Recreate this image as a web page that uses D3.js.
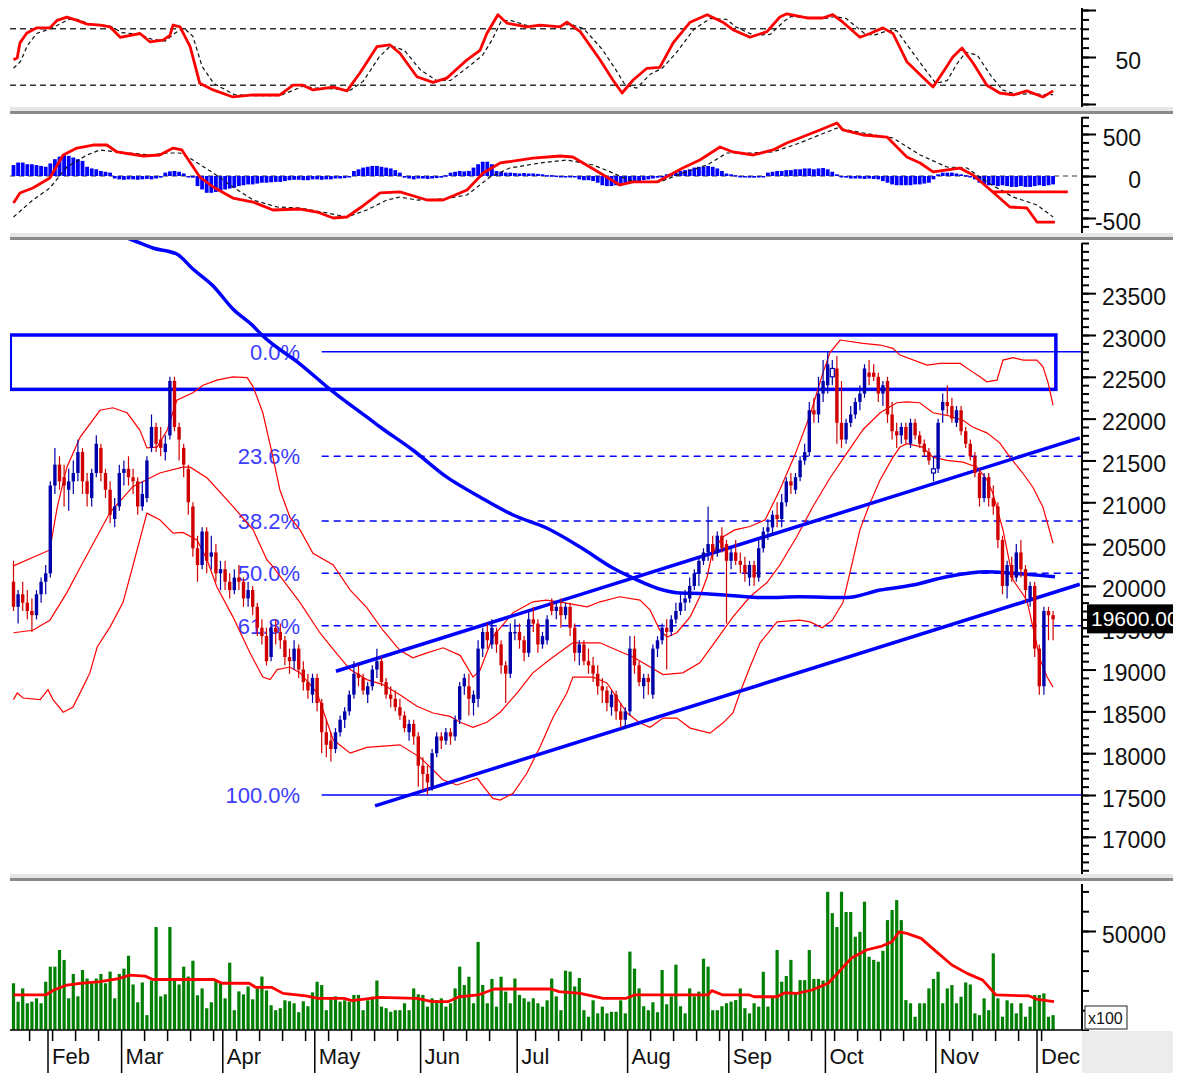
<!DOCTYPE html>
<html>
<head>
<meta charset="utf-8">
<script src="https://cdn.jsdelivr.net/npm/d3@7"></script>
<style>
  html, body { margin: 0; padding: 0; background: #fff; }
  svg { display: block; font-family: "Liberation Sans", Arial, sans-serif; }
</style>
</head>
<body>
<div id="chart"></div>
<script>
// ---- data ----
const monthNames = ["Feb", "Mar", "Apr", "May", "Jun", "Jul", "Aug", "Sep", "Oct", "Nov", "Dec"];
const monthStartBar = [8, 24, 46, 66, 89, 110, 134, 156, 177, 201, 223];

// daily candles: [open, high, low, close]
const candles = [
  [20050,20300,19700,19750],[19750,19950,19550,19900],[19900,20050,19700,19800],[19800,19950,19600,19700],
  [19700,19850,19450,19650],[19650,19950,19600,19900],[19900,20100,19800,20050],[20050,20250,19900,20150],
  // Feb
  [20150,21250,20100,21200],[21200,21650,21100,21450],[21450,21550,21150,21250],[21300,21450,20950,21200],
  [21150,21400,20900,21250],[21250,21500,21100,21350],[21350,21750,21250,21600],[21600,21650,21100,21250],
  [21250,21350,20950,21100],[21050,21400,20950,21350],[21350,21800,21300,21700],[21650,21700,21250,21350],
  [21350,21400,21050,21150],[21150,21250,20750,20850],[20800,21050,20700,20950],[20950,21450,20900,21350],
  // Mar
  [21350,21500,21200,21400],[21400,21550,21200,21300],[21300,21400,21100,21250],[21250,21300,20850,20950],
  [20950,21250,20900,21100],[21050,21550,21000,21500],[21650,22050,21600,21900],[21900,21950,21600,21700],
  [21750,21900,21550,21650],[21600,21800,21500,21700],[21800,22500,21750,22450],[22450,22500,21850,21900],
  [21900,21950,21500,21750],[21650,21700,21300,21450],[21400,21450,20850,21000],[20950,21000,20350,20450],
  [20450,20600,20050,20250],[20250,20700,20200,20650],[20650,20700,20150,20300],[20350,20600,20200,20400],
  [20400,20500,20050,20150],[20150,20300,19950,20200],
  // Apr
  [20200,20300,19950,20050],[20050,20150,19850,19950],[19950,20200,19900,20100],[20100,20250,19950,20050],
  [20050,20100,19750,19850],[19850,20050,19750,19950],[19950,20000,19650,19750],[19750,19800,19400,19500],
  [19500,19600,19300,19400],[19400,19500,19050,19100],[19150,19550,19100,19500],[19500,19600,19300,19450],
  [19450,19550,19250,19350],[19350,19400,19050,19150],[19150,19250,18950,19100],[19100,19350,19000,19250],
  [19250,19300,18900,19000],[19000,19100,18750,18850],[18850,18950,18650,18750],[18700,18950,18600,18900],
  // May
  [18900,18950,18500,18600],[18600,18650,18000,18250],[18250,18400,17950,18100],[18150,18250,17900,18050],
  [18050,18300,18000,18250],[18250,18450,18200,18400],[18400,18550,18300,18500],[18500,18750,18450,18700],
  [18700,19100,18650,18950],[18950,19050,18800,18900],[18900,18950,18700,18750],[18700,18850,18600,18800],
  [18800,19050,18750,19000],[19000,19250,18900,19100],[19100,19150,18800,18850],[18850,18900,18650,18700],
  [18700,18800,18550,18650],[18650,18750,18500,18550],[18550,18650,18400,18450],[18450,18500,18250,18300],
  [18250,18400,18150,18350],[18350,18400,18100,18200],[18200,18250,17600,17850],
  // Jun
  [17850,17950,17550,17750],[17750,17850,17500,17650],[17600,18050,17550,18000],[18000,18250,17950,18200],
  [18200,18250,18050,18150],[18150,18300,18100,18250],[18250,18300,18100,18200],[18200,18450,18150,18400],
  [18400,18850,18350,18800],[18800,18950,18700,18900],[18800,18950,18450,18650],[18600,18750,18450,18700],
  [18650,19350,18550,19250],[19250,19500,19150,19450],[19450,19550,19250,19350],[19300,19600,19250,19500],
  [19450,19500,19200,19300],[19300,19350,18950,19050],[19050,19100,18600,18950],[18950,19550,18900,19450],
  [19450,19600,19350,19450],
  // Jul
  [19450,19550,19250,19350],[19350,19400,19100,19200],[19200,19700,19150,19600],[19600,19750,19450,19550],
  [19550,19600,19200,19300],[19300,19450,19250,19400],[19350,19650,19300,19600],[19800,19850,19650,19700],
  [19700,19800,19600,19750],[19750,19850,19500,19650],[19650,19800,19600,19750],[19750,19800,19400,19500],
  [19500,19550,19100,19200],[19200,19350,19050,19300],[19300,19350,19050,19100],[19100,19250,18950,19050],
  [19050,19150,18850,18950],[18950,19050,18700,18800],[18800,18900,18600,18750],[18750,18800,18500,18600],
  [18550,18750,18450,18700],[18700,18750,18400,18500],[18500,18600,18300,18400],[18400,18550,18300,18500],
  // Aug
  [18500,19400,18450,19250],[19250,19400,18950,19050],[19050,19100,18800,18850],[18800,18950,18650,18900],
  [18900,18950,18700,18850],[18700,19300,18650,19250],[19250,19400,19150,19350],[19350,19550,19300,19500],
  [19500,19600,19000,19450],[19450,19650,19400,19600],[19600,19800,19550,19700],[19700,19900,19650,19800],
  [19800,19950,19700,19850],[19850,20100,19800,20000],[20000,20200,19950,20150],[20150,20350,20000,20300],
  [20300,20450,20250,20400],[20400,20950,20300,20500],[20500,20600,20300,20400],[20400,20650,20350,20600],
  [20600,20700,20400,20450],[20500,20550,19550,20300],
  // Sep
  [20300,20450,20200,20400],[20400,20550,20250,20300],[20300,20400,20150,20250],[20250,20350,20050,20150],
  [20100,20300,20000,20250],[20250,20300,20000,20100],[20100,20550,20050,20450],[20450,20700,20400,20650],
  [20650,20800,20550,20700],[20700,20900,20600,20850],[20850,21000,20700,20800],[20800,21100,20700,21000],
  [21000,21300,20950,21250],[21250,21350,21100,21200],[21150,21350,21100,21300],[21300,21550,21250,21500],
  [21500,21700,21450,21600],[21600,22200,21550,22100],[22100,22250,21950,22050],[22050,22500,21950,22300],
  [22300,22700,22200,22450],
  // Oct
  [22400,22800,22300,22650],[22500,22700,22400,22600],[22600,22750,21700,21950],[21950,22450,21650,21750],
  [21750,22000,21700,21950],[21950,22150,21900,22050],[22050,22250,22000,22200],[22200,22400,22100,22300],
  [22300,22650,22250,22600],[22550,22700,22400,22500],[22550,22650,22450,22500],[22500,22550,22200,22300],
  [22300,22450,22150,22400],[22450,22500,21950,22050],[22050,22200,21750,21850],[21850,21950,21650,21800],
  [21800,21950,21700,21900],[21900,21950,21700,21750],[21700,22000,21650,21950],[21950,22000,21750,21800],
  [21800,21850,21650,21700],[21700,21750,21550,21600],[21600,21650,21450,21500],[21350,21550,21250,21400],
  // Nov
  [21400,22000,21350,21950],[22100,22300,21950,22200],[22200,22400,22050,22150],[22150,22250,21950,22000],
  [21950,22150,21900,22100],[22100,22150,21800,21850],[21850,21900,21650,21700],[21700,21750,21500,21550],
  [21550,21600,21300,21350],[21350,21400,20950,21050],[21050,21350,21000,21300],[21300,21350,20950,21050],
  [21050,21200,20850,20950],[20950,21000,20450,20550],[20550,20600,19900,20000],[20000,20300,19850,20250],
  [20250,20350,20050,20100],[20100,20500,20050,20400],[20400,20550,20100,20200],[20200,20250,19800,19950],
  [19850,20050,19750,20000],[20000,20050,19150,19250],
  // Dec
  [19250,19300,18700,18800],[18800,19750,18700,19700],[19700,19750,19350,19650],[19650,19700,19350,19600]
];

const volume = [
  23600,14300,21000,13500,14300,16000,13500,24400,
  32000,32000,40400,35400,16000,28300,17000,30300,26000,23600,26000,28300,23600,29500,16000,28300,
  31000,37500,23000,14000,24000,7500,25000,52000,17000,18000,52000,26000,23000,32000,27000,35000,17500,21000,11000,14000,25000,24000,
  16000,34000,10000,19500,18000,22000,15500,21000,27000,20000,12500,10000,11000,15000,14500,13500,9000,14500,12000,19000,
  24400,22700,10000,16000,17000,14300,15000,14300,17700,17700,10000,15000,16800,25000,11800,11000,9200,10000,10000,13500,10000,21000,18000,
  17700,11800,16000,15100,16000,11800,13500,21000,32000,22700,26900,13500,44500,22700,13500,25800,11800,26900,19400,13500,26000,
  17700,16000,14300,16000,13500,11800,15000,26000,17000,10000,30000,29500,22000,26300,10000,6700,15000,8400,11800,8400,9200,9200,15000,8400,
  39600,31000,21000,12000,10000,14000,9000,30300,13000,17000,33000,12000,8400,21000,17000,19400,36000,32000,10000,10000,12000,13500,
  14300,15100,21000,11000,8400,13500,11800,29400,11800,16800,40400,24400,27300,35400,18500,25200,25200,40400,25800,25800,25000,
  69800,59000,52000,69800,59600,59600,47100,49600,64800,37000,35400,34500,40000,55500,60600,65600,55500,15100,13500,6700,13500,13500,21000,25800,
  29400,13500,21000,22700,13500,16800,24000,23000,8400,7500,16000,10000,38700,16000,6700,15000,13500,8400,13500,6700,11800,17700,
  17700,18500,6700,7500
];

// volume moving average: [bar, value]
const volumeAvg = [
  [0,17700],[7,17700],[8.8,20200],[11.6,22700],[14.5,23600],[18.8,24400],[22.9,26000],[25.3,27700],[28.6,27200],
  [30.3,25500],[43.6,25500],[45.3,23600],[51.2,23600],[52.7,21500],[56.2,21500],[58.6,18500],[63.6,17200],
  [66.2,16000],[71.9,16000],[73.6,14800],[79.4,16500],[87.7,16000],[91,14300],[94.4,14300],[96.9,16800],
  [101,17700],[104.5,20700],[116.8,20700],[118.6,19400],[123.2,18500],[128.2,16000],[133.2,16000],[135,17700],
  [151,17700],[151.8,19900],[154.2,17700],[160,17700],[161,16800],[166,16800],[167.7,18800],[170.3,18500],
  [173.6,20200],[177.1,23600],[178.6,27300],[182.1,36200],[185.4,40400],[188.8,42400],[191,44600],[192.5,49600],
  [194.2,48800],[197.3,46300],[200.6,39600],[204,32800],[207.3,28600],[210.7,25200],[213.6,17700],[220.8,17200],
  [222.5,15500],[226.2,14300]
];

// Bollinger bands: [bar, price]
const bandUpper = [
  [0,20240],[7.9,20430],[9.5,20940],[11.6,21420],[14.5,21780],[18.8,22100],[21.6,22130],[24.7,22070],[27.5,21860],
  [29,21650],[31.2,21660],[33.4,21860],[35.5,22220],[39,22310],[41.2,22400],[44.2,22460],[47.7,22500],[50.8,22490],
  [52.1,22380],[54.2,22070],[56.4,21540],[57.9,21150],[60.1,20820],[62.3,20670],[65.1,20390],[69.5,20250],
  [73.2,19950],[76.8,19740],[80.3,19470],[84,19230],[86.8,19140],[89.9,19200],[93.4,19260],[97.1,19170],
  [99.9,18910],[101.4,18990],[104.2,19390],[108.6,19680],[112.9,19810],[115.8,19830],[118.6,19810],[124.7,19750],
  [127.5,19810],[131.8,19870],[136.2,19830],[138.4,19710],[140.5,19470],[142.1,19390],[144.2,19440],[147.1,19630],
  [149.2,19870],[150.8,20110],[151.8,20370],[154,20580],[156.8,20670],[160.1,20710],[163.4,20790],[166.6,21150],
  [169.9,21570],[173.2,22050],[175.8,22520],[177.5,22790],[179.7,22940],[184.7,22900],[188.4,22880],[191.2,22840],
  [192.7,22760],[198.6,22640],[201.4,22660],[205.8,22660],[207.9,22580],[210.1,22500],[211.6,22440],[213.8,22460],
  [215.1,22700],[217.3,22730],[219.5,22700],[222.5,22700],[223.8,22620],[224.9,22430],[226,22160]
];
const bandMiddle = [
  [0,19440],[4.2,19470],[7.9,19590],[11.6,19920],[14.5,20220],[21,20880],[26,21190],[31.8,21350],[36.8,21420],
  [38.4,21420],[42.1,21290],[47.7,20950],[52.1,20670],[55.1,20310],[56.4,20230],[62.3,19800],[66.6,19440],
  [69.5,19240],[73.2,19000],[76.8,18880],[80.3,18820],[84,18700],[87.7,18560],[91.2,18480],[94.9,18440],
  [97.1,18370],[99.9,18310],[102.9,18370],[105.8,18490],[109.5,18720],[112.9,18960],[116.6,19120],[120.3,19270],
  [121.6,19320],[127.5,19320],[131.2,19230],[134.7,19150],[138.4,19030],[141.2,18940],[145.5,18960],[149.2,19080],
  [152.9,19360],[156.4,19630],[160.1,19870],[163.8,20040],[166.6,20250],[170.3,20590],[173.8,20950],[177.5,21290],
  [181.2,21590],[184.7,21870],[188.4,22070],[192,22190],[194.2,22200],[197,22190],[199.9,22070],[202.9,22040],
  [206.4,21980],[208.5,21900],[211.6,21830],[214.4,21710],[216.6,21540],[219.4,21350],[221.6,21180],[223.8,20940],
  [226,20510]
];
const bandLower = [
  [0,18640],[0.8,18720],[2.1,18660],[5.8,18640],[7.5,18760],[8.6,18640],[10.8,18490],[12.9,18550],[15.1,18790],
  [16.6,18960],[18.2,19270],[21,19510],[23.8,19800],[26,20250],[29,20870],[31.8,20790],[34.7,20630],[36.8,20640],
  [39.9,20550],[42.1,20310],[44.2,19990],[47.7,19630],[51.4,19200],[54.2,18910],[55.8,18880],[57.3,19000],
  [60.1,19030],[62.3,18960],[66,18720],[69.5,18160],[73.2,18000],[76.8,18070],[84,18100],[88.4,17950],
  [93.4,17680],[96.4,17620],[100.8,17700],[104.2,17460],[105.8,17440],[108.6,17520],[111.6,17760],[114.5,18080],
  [117.3,18430],[120.3,18720],[121.6,18910],[126,18910],[129,18840],[133.4,18480],[136.2,18360],[138.4,18310],
  [141.2,18420],[144.2,18420],[147.1,18300],[151.4,18240],[154.2,18360],[156.4,18480],[157.9,18720],[160.1,19030],
  [162.3,19320],[166,19570],[170.9,19590],[173.2,19570],[175.8,19500],[178,19590],[180.3,19800],[181.8,20150],
  [184,20670],[186.2,20990],[188.4,21270],[191.2,21540],[192.7,21660],[194.2,21700],[197.6,21660],[199.9,21540],
  [202.9,21500],[206.4,21480],[209.5,21420],[211.6,21270],[212.9,21110],[215.1,20670],[217.3,20070],[220.3,19830],
  [221.6,19510],[223.2,19115],[224.7,18910],[226,18790]
];

// long moving average (thick blue)
const longAvg = [
  [20,24260],[26.4,24124],[30.3,24040],[35.5,23968],[39,23789],[43.4,23586],[47.7,23311],[52.1,23107],[54,23000],
  [62.3,22653],[69.5,22320],[76.8,22020],[79.7,21900],[86.8,21625],[94.2,21300],[101.4,21063],[108.6,20848],
  [115.9,20692],[123.2,20465],[130.3,20214],[134.7,20094],[141.2,19951],[144.9,19915],[149.3,19910],[163.8,19860],
  [170.7,19870],[181.2,19860],[188.4,19950],[195.5,20010],[202.9,20110],[211.6,20170],[217.3,20150],[226.4,20110]
];

// drawn objects on the price panel
const channelUpper = [[70.1, 18980], [231.8, 21770]];
const channelLower = [[78.6, 17370], [231.8, 20020]];
const resistanceBox = [22350, 23000];
const fibHigh = 22800, fibLow = 17500;
const fibLevels = [0, 23.6, 38.2, 50, 61.8, 100];
const lastPrice = 19600;

// stochastic oscillator
const stochK = [
  [0,47],[0.8,49],[1.4,65],[2.9,75.5],[5.1,81],[7.9,81],[9.5,89],[11.6,92.5],[13.8,89],[16,85],[18.8,84],[21,82],
  [23.2,71],[27.5,75],[29.7,66],[32.5,68],[34,73],[34.7,84],[36.2,82],[38.4,61],[40.5,22],[43.4,15],[47.7,7.5],
  [52.1,9.6],[57.9,9.6],[60.8,20],[62.9,20],[65.1,15],[69.5,18],[72.5,14],[75.3,33],[79,61],[81.8,63],[84,54],
  [87.7,29],[91.2,23],[94.2,27.5],[98.6,47],[101.4,57],[102.9,75],[105.3,95],[107.3,86],[111.6,82],[114.5,84],
  [118.8,82],[120.3,87],[123.2,77],[127.5,47],[130.3,25.5],[132.3,11.7],[134.7,25.5],[137.7,38],[140.5,39],
  [143.4,65],[147.1,87],[150.8,95],[154.2,87],[156.4,79],[160.1,71],[163.8,77],[166.6,92.5],[168.1,96],[172.5,91.5],
  [175.9,91.5],[178.1,95],[180.3,87],[184,71],[186.2,75],[189,81],[191.2,75],[194.2,45],[197.1,31],[199.9,18],
  [202.1,34],[204.2,50],[206.2,59.5],[208.6,43.6],[211.6,20],[214.4,11.7],[217.3,9.6],[220.3,14],[223.8,7.5],[226,14]
];
const stochD = [
  [0,38],[1.5,45],[3,62],[5,75],[8,80],[10,85],[12,90],[14,90],[16,86],[19,84],[21,83],[23.5,76],[27.5,74],[30,69],
  [33,67],[35,75],[37,81],[39,72],[41,40],[43.5,22],[48,10],[52,9],[58,9],[61,15],[63,19],[65.5,17],[70,16],[73,14],
  [76,24],[79.5,50],[82,62],[85,57],[88.5,36],[92,25],[95,25],[99,40],[102,52],[104,68],[106,88],[108,89],[112,83],
  [115,83],[119,83],[121,85],[124,80],[128,58],[131,36],[133,20],[135.5,17],[138.5,32],[141,38],[144,54],[148,80],
  [151.5,91],[155,90],[157,82],[161,73],[164.5,74],[167.5,88],[169,93],[173,92],[176.5,91],[178.5,93],[181,91],
  [185,75],[187,73],[190,78],[192,78],[195,58],[198,38],[200.5,22],[203,25],[205,42],[207,55],[209.5,52],[212.5,30],
  [215,15],[218,10],[221,11],[224,10],[226,10]
];
const stochBands = [20, 80];

// MACD
const macdLine = [
  [0,-321],[1.4,-202],[4.2,-143],[7.9,-24],[10.8,250],[13.8,333],[17.3,369],[20.3,369],[22.5,286],[28.2,238],
  [31.8,250],[34.7,333],[36.6,310],[40.5,-12],[43.4,-131],[47.7,-262],[52.1,-310],[56.4,-405],[62.3,-393],[66,-429],
  [69.5,-500],[72.5,-488],[75.3,-381],[79.7,-202],[84,-190],[89.9,-286],[93.4,-286],[98.6,-167],[102.1,36],
  [105.8,155],[112.9,214],[118.8,238],[121.6,226],[127.5,36],[131.8,-107],[134.7,-71],[139.9,-71],[145.5,95],
  [149.2,190],[153.6,345],[156.4,286],[160.8,250],[165.1,310],[168.1,393],[170.9,452],[175.3,548],[179,631],
  [180.3,548],[184.7,488],[189.9,464],[194.2,226],[197.1,155],[199.9,48],[205.7,95],[208.6,12],[212.9,-190],
  [216.6,-369],[220.3,-381],[222.5,-548],[226.4,-548]
];
const macdSignal = [
  [0,-488],[4.2,-286],[7.9,-143],[11.6,107],[16,250],[18.8,310],[22.5,286],[29.7,250],[33.4,274],[36.2,274],
  [39,190],[43.4,36],[47.7,-131],[52.1,-286],[57.3,-369],[62.3,-381],[68.2,-440],[72.5,-488],[76.8,-405],
  [81.2,-286],[84,-250],[87.7,-286],[93.4,-274],[98.6,-226],[103.6,-12],[107.9,95],[114.5,155],[120.3,190],
  [126,131],[130.3,36],[134.7,-71],[140.5,-71],[145.5,36],[150.8,131],[155.1,274],[160.1,274],[165.1,286],
  [170.9,393],[179,571],[184.7,512],[191.2,452],[197.1,250],[202.9,107],[207.3,95],[211.6,-71],[217.3,-250],
  [222.5,-345],[226,-488]
];
const macdHist = [
  130,160,160,140,140,130,120,110,
  150,200,230,250,240,220,200,180,
  110,90,80,60,50,40,
  -30,-40,-45,-40,-40,-45,-40,-35,-40,-30,-20,
  40,55,60,50,30,
  0,-20,
  -120,-160,-200,-200,-190,-180,
  -160,-150,-140,-120,-110,-100,
  -100,-90,-80,-80,-75,-70,-70,-60,
  -50,-45,-45,-50,-50,-40,-40,-45,-40,-40,-30,-30,-25,0,
  60,80,100,110,120,120,110,100,90,70,40,
  -20,-30,-40,-30,-30,-35,-30,-25,-20,10,
  40,50,60,55,60,
  100,140,170,170,140,
  60,50,40,40,35,30,35,30,30,25,
  20,10,10,5,0,-5,-5,-10,
  -40,-50,-50,-60,-80,
  -110,-120,-120,-110,-100,-80,-70,
  -60,-60,-50,-40,-30,-20,0,
  20,30,40,
  60,70,80,100,110,110,120,110,90,60,
  30,20,10,0,-15,-20,
  -20,-10,0,
  40,50,60,60,70,70,80,80,90,90,80,90,
  95,80,50,20,
  -10,-20,-30,-30,-30,-35,-30,-35,-40,
  -60,-80,-100,-110,-110,-110,-110,-100,-100,-90,-80,
  -40,20,40,40,40,30,
  20,10,0,
  -40,-80,-100,-110,-110,-120,-110,
  -120,-130,-130,-120,-130,-130,-120,-110,-120,-110,-100
];
const macdLevel = [[212.7, -190], [229.2, -190]];

function drawChart() {
    // 1. page and panel geometry
    const W = 1187, H = 1073;
    const left = 10, axisX = 1082;
    const panels = {
        stoch: { top: 5, bottom: 107 },
        macd: { top: 114, bottom: 233 },
        price: { top: 240, bottom: 874 },
        vol: { top: 881, bottom: 1030 }
    };

    const svg = d3.select("#chart").append("svg")
        .attr("width", W)
        .attr("height", H);

    const defs = svg.append("defs");
    Object.entries(panels).forEach(([k, p]) => {
        defs.append("clipPath").attr("id", "clip-" + k)
            .append("rect")
            .attr("x", left).attr("y", p.top)
            .attr("width", axisX - left).attr("height", p.bottom - p.top);
    });

    // 2. scales
    const n = candles.length;
    const step = 4.6;
    const x = d3.scaleLinear().domain([-0.5, n - 0.5]).range([11.2, 11.2 + n * step]);
    const yStoch = d3.scaleLinear().domain([0, 100]).range([104, 10]);
    const yMacd = d3.scaleLinear().domain([-500, 500]).range([218, 134]);
    const yPrice = d3.scaleLinear().domain([17500, 23000]).range([795, 335]);
    const yVol = d3.scaleLinear().domain([0, 50000]).range([1030, 931]);

    const line = (ys) => d3.line().x(d => x(d[0])).y(d => ys(d[1]));

    // 3. separators between panels
    [[107, 111], [233, 237], [874, 878]].forEach(([a, b]) => {
        svg.append("rect").attr("x", left).attr("y", a).attr("width", 1163).attr("height", b - a).attr("fill", "#e6e6e6");
        svg.append("rect").attr("x", left).attr("y", b).attr("width", 1163).attr("height", 3).attr("fill", "#8a8a8a");
    });

    // 4. stochastic panel
    const gS = svg.append("g").attr("clip-path", "url(#clip-stoch)");
    stochBands.forEach(v => {
        gS.append("line")
            .attr("x1", left).attr("x2", axisX)
            .attr("y1", yStoch(v)).attr("y2", yStoch(v))
            .attr("stroke", "#333").attr("stroke-width", 1.5)
            .attr("stroke-dasharray", "6,4");
    });
    gS.append("path").datum(stochD)
        .attr("d", line(yStoch)).attr("fill", "none")
        .attr("stroke", "#111").attr("stroke-width", 1.2).attr("stroke-dasharray", "4,3");
    gS.append("path").datum(stochK)
        .attr("d", line(yStoch)).attr("fill", "none")
        .attr("stroke", "#ff0000").attr("stroke-width", 2.8).attr("stroke-linejoin", "round");

    // 5. MACD panel
    const gM = svg.append("g").attr("clip-path", "url(#clip-macd)");
    gM.append("line")
        .attr("x1", left).attr("x2", axisX)
        .attr("y1", yMacd(0)).attr("y2", yMacd(0))
        .attr("stroke", "#333").attr("stroke-width", 1.2).attr("stroke-dasharray", "5,4");
    gM.selectAll(".hist")
        .data(macdHist)
        .join("rect")
        .attr("class", "hist")
        .attr("x", (d, i) => x(i) - 1.9)
        .attr("width", 3.8)
        .attr("y", d => Math.min(yMacd(d), yMacd(0)))
        .attr("height", d => Math.max(1.5, Math.abs(yMacd(d) - yMacd(0))))
        .attr("fill", "#0000ff");
    gM.append("path").datum(macdSignal)
        .attr("d", line(yMacd)).attr("fill", "none")
        .attr("stroke", "#111").attr("stroke-width", 1.2).attr("stroke-dasharray", "4,3");
    gM.append("path").datum(macdLine)
        .attr("d", line(yMacd)).attr("fill", "none")
        .attr("stroke", "#ff0000").attr("stroke-width", 2.8).attr("stroke-linejoin", "round");
    gM.append("path").datum(macdLevel)
        .attr("d", line(yMacd)).attr("fill", "none")
        .attr("stroke", "#ff0000").attr("stroke-width", 2.8);

    // 6. price panel
    const gP = svg.append("g").attr("clip-path", "url(#clip-price)");

    // resistance box
    gP.append("rect")
        .attr("x", x(-0.7))
        .attr("y", yPrice(resistanceBox[1]))
        .attr("width", x(226.6) - x(-0.7))
        .attr("height", yPrice(resistanceBox[0]) - yPrice(resistanceBox[1]))
        .attr("fill", "none").attr("stroke", "#0000ff").attr("stroke-width", 3.5);

    // fibonacci retracement
    fibLevels.forEach(pct => {
        const v = fibHigh - (fibHigh - fibLow) * pct / 100;
        const solid = pct === 0 || pct === 100;
        gP.append("line")
            .attr("x1", x(67)).attr("x2", axisX)
            .attr("y1", yPrice(v)).attr("y2", yPrice(v))
            .attr("stroke", "#0000ff").attr("stroke-width", 1.5)
            .attr("stroke-dasharray", solid ? null : "7,5");
        gP.append("text")
            .text(pct.toFixed(1) + "%")
            .attr("x", x(62.3)).attr("y", yPrice(v) + 8)
            .attr("text-anchor", "end")
            .style("font-size", "22px")
            .attr("fill", "#3c3cff");
    });

    // bollinger bands
    [bandUpper, bandMiddle, bandLower].forEach(b => {
        gP.append("path").datum(b)
            .attr("d", line(yPrice)).attr("fill", "none")
            .attr("stroke", "#ff0000").attr("stroke-width", 1.2);
    });

    // long moving average and channel
    gP.append("path").datum(longAvg)
        .attr("d", line(yPrice).curve(d3.curveMonotoneX)).attr("fill", "none")
        .attr("stroke", "#0000ff").attr("stroke-width", 3.5);
    [channelUpper, channelLower].forEach(c => {
        gP.append("path").datum(c)
            .attr("d", line(yPrice)).attr("fill", "none")
            .attr("stroke", "#0000ff").attr("stroke-width", 3.5);
    });

    // candles
    const blue = "#0000aa", red = "#d00000";
    const colorOf = d => d[3] >= d[0] ? blue : red;
    const hollow = (d, i) => d[3] > d[0] && i > 0 && d[3] < candles[i - 1][3];
    const cg = gP.append("g");
    cg.selectAll(".wick")
        .data(candles)
        .join("line")
        .attr("class", "wick")
        .attr("x1", (d, i) => x(i)).attr("x2", (d, i) => x(i))
        .attr("y1", d => yPrice(d[1])).attr("y2", d => yPrice(d[2]))
        .attr("stroke", colorOf).attr("stroke-width", 1.2);
    cg.selectAll(".body")
        .data(candles)
        .join("rect")
        .attr("class", "body")
        .attr("x", (d, i) => x(i) - (hollow(d, i) ? 2 : 1.7))
        .attr("width", (d, i) => hollow(d, i) ? 4 : 3.4)
        .attr("y", d => yPrice(Math.max(d[0], d[3])))
        .attr("height", d => Math.max(1.5, Math.abs(yPrice(d[0]) - yPrice(d[3]))))
        .attr("fill", (d, i) => hollow(d, i) ? "#fff" : colorOf(d))
        .attr("stroke", (d, i) => hollow(d, i) ? colorOf(d) : "none")
        .attr("stroke-width", 1.2);

    // 7. volume panel
    const gV = svg.append("g").attr("clip-path", "url(#clip-vol)");
    gV.selectAll(".vol")
        .data(volume)
        .join("rect")
        .attr("class", "vol")
        .attr("x", (d, i) => x(i) - 1.6)
        .attr("width", 3.2)
        .attr("y", d => yVol(d))
        .attr("height", d => yVol(0) - yVol(d))
        .attr("fill", "#008000");
    gV.append("path").datum(volumeAvg)
        .attr("d", line(yVol)).attr("fill", "none")
        .attr("stroke", "#ff0000").attr("stroke-width", 2.8).attr("stroke-linejoin", "round");

    // 8. right axes
    function rightAxis(scale, panel, minor, major, labels, anchor) {
        const g = svg.append("g").attr("transform", `translate(${axisX},0)`);
        g.append("line")
            .attr("y1", panel.top + 3).attr("y2", panel.bottom)
            .attr("stroke", "#000").attr("stroke-width", 2);
        g.call(d3.axisRight(scale).tickValues(minor).tickSize(7).tickFormat(""))
            .call(a => a.select(".domain").remove());
        const gl = svg.append("g").attr("transform", `translate(${axisX},0)`);
        gl.call(d3.axisRight(scale).tickValues(major).tickSize(14).tickPadding(anchor === "end" ? 45 : 6).tickFormat(d => labels.includes(d) ? d : ""))
            .call(a => a.select(".domain").remove());
        g.selectAll("line").attr("stroke-width", 2);
        gl.selectAll("line").attr("stroke", "#000").attr("stroke-width", 2);
        gl.selectAll("text")
            .attr("text-anchor", anchor)
            .attr("x", anchor === "end" ? 59 : 20)
            .attr("dy", "0.48em")
            .attr("fill", "#111")
            .style("font-size", "23px")
            .style("font-family", "'Liberation Sans', Arial, sans-serif");
    }
    rightAxis(yStoch, panels.stoch, d3.range(0, 101, 10), [0, 50, 100], [50], "end");
    rightAxis(yMacd, panels.macd, d3.range(-600, 701, 100), [-500, 0, 500], [-500, 0, 500], "end");
    rightAxis(yPrice, panels.price, d3.range(16600, 24101, 100), d3.range(17000, 24000, 500), d3.range(17000, 24000, 500), "start");
    rightAxis(yVol, panels.vol, d3.range(0, 70001, 10000), [50000], [50000], "start");

    // last price tag
    const tag = svg.append("g");
    defs.append("clipPath").attr("id", "clip-tag")
        .append("rect").attr("x", 1080).attr("y", 590).attr("width", 93).attr("height", 60);
    tag.attr("clip-path", "url(#clip-tag)");
    tag.append("rect")
        .attr("x", 1087).attr("y", yPrice(lastPrice) - 15)
        .attr("width", 100).attr("height", 29)
        .attr("fill", "#000");
    tag.append("text")
        .text(lastPrice.toFixed(2))
        .attr("x", 1091).attr("y", yPrice(lastPrice) + 7)
        .attr("fill", "#fff")
        .style("font-size", "21px");

    // 9. time axis
    const base = yVol(0);
    svg.append("rect").attr("x", axisX).attr("y", base + 1).attr("width", 91).attr("height", H - base).attr("fill", "#ececec");
    svg.append("rect").attr("x", 1085).attr("y", 1006).attr("width", 42).attr("height", 23)
        .attr("fill", "#fff").attr("stroke", "#222").attr("stroke-width", 1);
    svg.append("text").text("x100").attr("x", 1088).attr("y", 1024)
        .style("font-size", "16px").attr("fill", "#111");

    svg.append("line")
        .attr("x1", left).attr("x2", axisX)
        .attr("y1", base).attr("y2", base)
        .attr("stroke", "#000").attr("stroke-width", 1.5);
    const weekTicks = d3.range(4, n, 5).filter(i => !monthStartBar.includes(i + 1) && !monthStartBar.includes(i));
    svg.selectAll(".wk")
        .data(weekTicks)
        .join("line")
        .attr("class", "wk")
        .attr("x1", d => x(d - 0.5)).attr("x2", d => x(d - 0.5))
        .attr("y1", base).attr("y2", base + 11)
        .attr("stroke", "#000").attr("stroke-width", 1.5);
    svg.selectAll(".mon")
        .data(monthStartBar)
        .join("line")
        .attr("class", "mon")
        .attr("x1", d => x(d - 0.5)).attr("x2", d => x(d - 0.5))
        .attr("y1", base).attr("y2", H)
        .attr("stroke", "#000").attr("stroke-width", 1.5);
    svg.selectAll(".monLabel")
        .data(monthStartBar)
        .join("text")
        .attr("class", "monLabel")
        .text((d, i) => monthNames[i])
        .attr("x", d => x(d - 0.5) + 4)
        .attr("y", 1064)
        .attr("fill", "#111")
        .style("font-size", "22px");
}

drawChart();
</script>
</body>
</html>
